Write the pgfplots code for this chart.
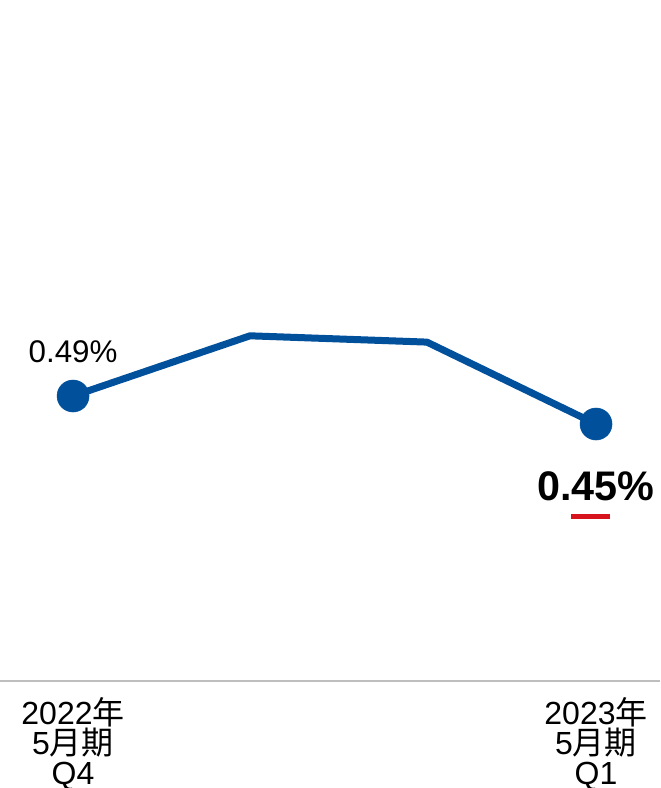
\documentclass[border=0pt]{standalone}
\usepackage{fontspec}
\setmainfont{Liberation Sans}
\newfontfamily\cjk{Noto Sans CJK JP}
\usepackage{pgfplots}
\pgfplotsset{compat=1.18}
\definecolor{lineblue}{RGB}{0,80,155}
\definecolor{markred}{RGB}{215,20,30}
\definecolor{basegray}{RGB}{190,190,190}
\begin{document}
\begin{tikzpicture}
\useasboundingbox (0,0) rectangle (495pt,591pt);
\begin{axis}[
  at={(0pt,80.25pt)}, anchor=south west,
  scale only axis,
  width=495pt, height=510.75pt,
  xmin=-0.419, xmax=3.367,
  ymin=0.0829, ymax=1.0557,
  axis x line=bottom,
  axis y line=none,
  x axis line style={color=basegray, line width=1.1pt, -},
  ytick=\empty,
  xtick={0,3},
  xticklabels={{2022{\cjk 年}\\5{\cjk 月期}\\Q4},{2023{\cjk 年}\\5{\cjk 月期}\\Q1}},
  xticklabel style={align=center, font=\fontsize{24}{22.5}\selectfont, anchor=north, yshift=-9pt},
  major tick length=0pt,
  clip=false,
]
\addplot[color=lineblue, line width=5.25pt, line join=round] coordinates {
  (0,0.49) (1.015,0.576) (2.03,0.567) (3,0.45)
};
\addplot[only marks, mark=*, mark size=12pt, color=lineblue, mark options={fill=lineblue, draw=lineblue}] coordinates {
  (0,0.49) (3,0.45)
};
\node[font=\fontsize{23.5}{28}\selectfont, anchor=center] at ([yshift=33pt]axis cs:0,0.49) {0.49\%};
\node[font=\fontsize{31}{36}\selectfont\bfseries, anchor=center] at ([yshift=-47pt]axis cs:3,0.45) {0.45\%};
\draw[markred, line width=3.75pt] ([xshift=-18.75pt, yshift=-69pt]axis cs:3,0.45) -- ([xshift=10.5pt, yshift=-69pt]axis cs:3,0.45);
\end{axis}
\end{tikzpicture}
\end{document}
